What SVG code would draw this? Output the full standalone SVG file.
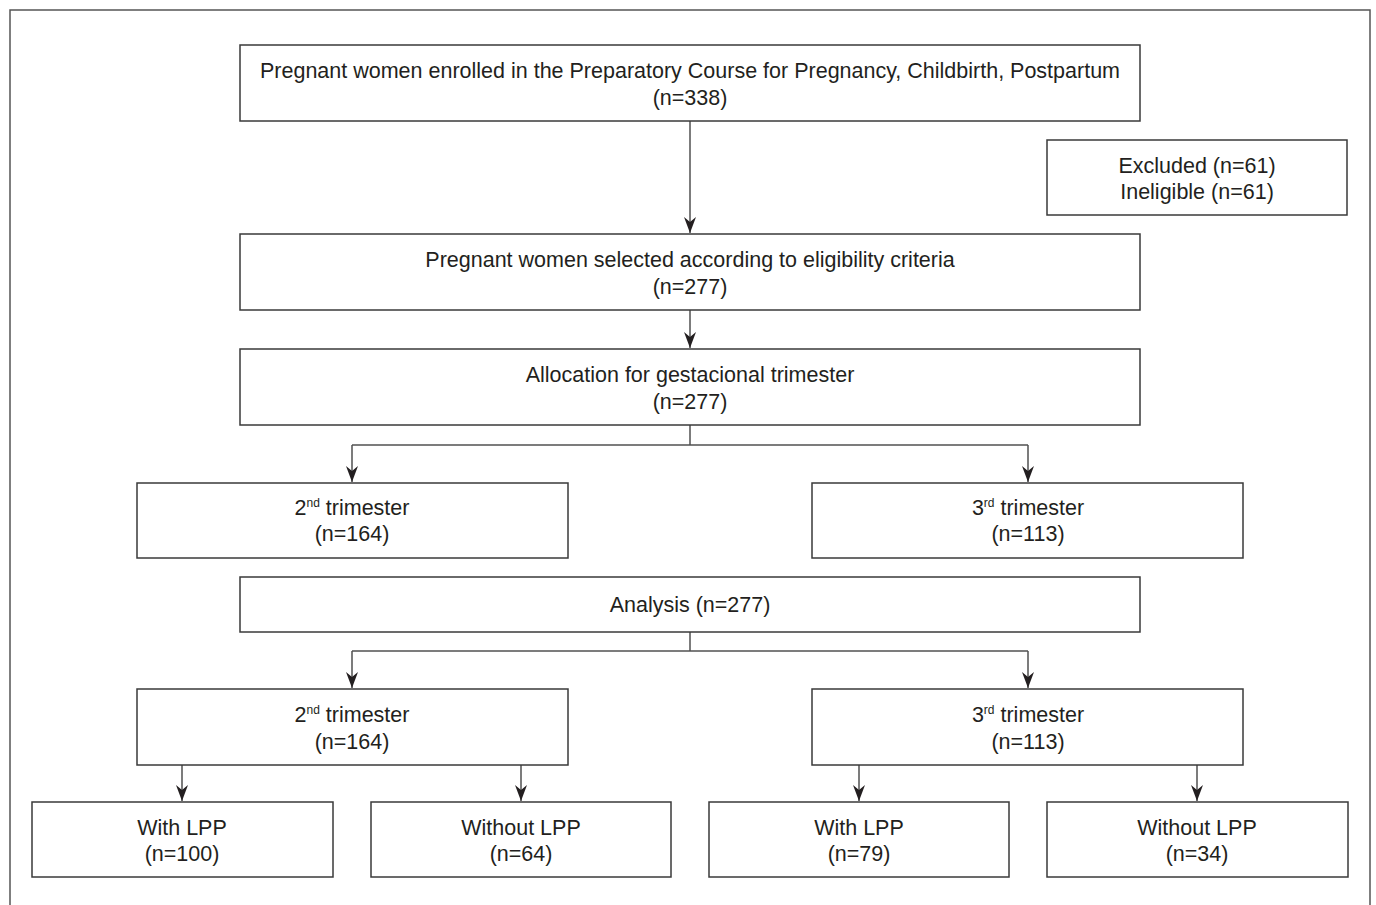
<svg xmlns="http://www.w3.org/2000/svg" width="1376" height="905" viewBox="0 0 1376 905">
<style>
.box{fill:#fff;stroke:#3a3a3a;stroke-width:1.5}
.t{font-family:"Liberation Sans",Arial,sans-serif;font-size:21.5px;fill:#231f20;text-anchor:middle}
.c{fill:none;stroke:#505050;stroke-width:1.5}
.sup{font-size:12px}
</style>
<defs>
<marker id="ah" viewBox="0 0 16 12" refX="16" refY="6" markerWidth="16" markerHeight="12" markerUnits="userSpaceOnUse" orient="auto">
<path d="M0,0 L16,6 L0,12 L5,6 Z" fill="#231f20"/>
</marker>
</defs>
<rect x="0" y="0" width="1376" height="905" fill="#fff"/>
<rect x="10" y="10" width="1360" height="920" fill="none" stroke="#555" stroke-width="1.5"/>
<g id="connectors">
<line class="c" x1="690" y1="121" x2="690" y2="233" marker-end="url(#ah)"/>
<line class="c" x1="690" y1="310" x2="690" y2="348" marker-end="url(#ah)"/>
<polyline class="c" points="690,425 690,445"/>
<polyline class="c" points="352,445 1028,445"/>
<line class="c" x1="352" y1="445" x2="352" y2="482" marker-end="url(#ah)"/>
<line class="c" x1="1028" y1="445" x2="1028" y2="482" marker-end="url(#ah)"/>
<polyline class="c" points="690,632 690,651"/>
<polyline class="c" points="352,651 1028,651"/>
<line class="c" x1="352" y1="651" x2="352" y2="688" marker-end="url(#ah)"/>
<line class="c" x1="1028" y1="651" x2="1028" y2="688" marker-end="url(#ah)"/>
<line class="c" x1="182" y1="765" x2="182" y2="801" marker-end="url(#ah)"/>
<line class="c" x1="521" y1="765" x2="521" y2="801" marker-end="url(#ah)"/>
<line class="c" x1="859" y1="765" x2="859" y2="801" marker-end="url(#ah)"/>
<line class="c" x1="1197" y1="765" x2="1197" y2="801" marker-end="url(#ah)"/>
</g>
<g id="enrolled">
<rect class="box" x="240" y="45" width="900" height="76"/>
<text class="t" x="690" y="78">Pregnant women enrolled in the Preparatory Course for Pregnancy, Childbirth, Postpartum</text>
<text class="t" x="690" y="105">(n=338)</text>
</g>
<g id="excluded">
<rect class="box" x="1047" y="140" width="300" height="75"/>
<text class="t" x="1197" y="173">Excluded (n=61)</text>
<text class="t" x="1197" y="199">Ineligible (n=61)</text>
</g>
<g id="selected">
<rect class="box" x="240" y="234" width="900" height="76"/>
<text class="t" x="690" y="267">Pregnant women selected according to eligibility criteria</text>
<text class="t" x="690" y="294">(n=277)</text>
</g>
<g id="allocation">
<rect class="box" x="240" y="349" width="900" height="76"/>
<text class="t" x="690" y="382">Allocation for gestacional trimester</text>
<text class="t" x="690" y="409">(n=277)</text>
</g>
<g id="tri2a">
<rect class="box" x="137" y="483" width="431" height="75"/>
<text class="t" x="352" y="515">2<tspan class="sup" dy="-8">nd</tspan><tspan dy="8"> trimester</tspan></text>
<text class="t" x="352" y="541">(n=164)</text>
</g>
<g id="tri3a">
<rect class="box" x="812" y="483" width="431" height="75"/>
<text class="t" x="1028" y="515">3<tspan class="sup" dy="-8">rd</tspan><tspan dy="8"> trimester</tspan></text>
<text class="t" x="1028" y="541">(n=113)</text>
</g>
<g id="analysis">
<rect class="box" x="240" y="577" width="900" height="55"/>
<text class="t" x="690" y="612">Analysis (n=277)</text>
</g>
<g id="tri2b">
<rect class="box" x="137" y="689" width="431" height="76"/>
<text class="t" x="352" y="722">2<tspan class="sup" dy="-8">nd</tspan><tspan dy="8"> trimester</tspan></text>
<text class="t" x="352" y="749">(n=164)</text>
</g>
<g id="tri3b">
<rect class="box" x="812" y="689" width="431" height="76"/>
<text class="t" x="1028" y="722">3<tspan class="sup" dy="-8">rd</tspan><tspan dy="8"> trimester</tspan></text>
<text class="t" x="1028" y="749">(n=113)</text>
</g>
<g id="leaf1">
<rect class="box" x="32" y="802" width="301" height="75"/>
<text class="t" x="182" y="835">With LPP</text>
<text class="t" x="182" y="861">(n=100)</text>
</g>
<g id="leaf2">
<rect class="box" x="371" y="802" width="300" height="75"/>
<text class="t" x="521" y="835">Without LPP</text>
<text class="t" x="521" y="861">(n=64)</text>
</g>
<g id="leaf3">
<rect class="box" x="709" y="802" width="300" height="75"/>
<text class="t" x="859" y="835">With LPP</text>
<text class="t" x="859" y="861">(n=79)</text>
</g>
<g id="leaf4">
<rect class="box" x="1047" y="802" width="301" height="75"/>
<text class="t" x="1197" y="835">Without LPP</text>
<text class="t" x="1197" y="861">(n=34)</text>
</g>
</svg>
